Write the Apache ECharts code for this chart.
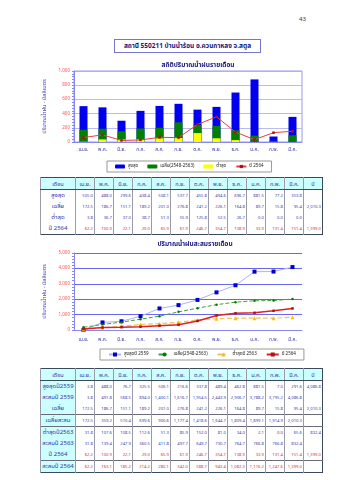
<!DOCTYPE html>
<html><head><meta charset="utf-8">
<script src="https://cdn.jsdelivr.net/npm/echarts@6/dist/echarts.min.js"></script>
<style>
html,body{margin:0;padding:0;background:#fff;}
#page{position:relative;width:339px;height:480px;overflow:hidden;font-family:'Noto Sans Thai','Tahoma','DejaVu Sans',sans-serif;}
#c1{position:absolute;left:0;top:55px;width:339px;height:120px;}
#c2{position:absolute;left:0;top:234px;width:339px;height:132px;}
.pg{position:absolute;left:299px;top:15px;font-size:6px;color:#333;}
.tbox{position:absolute;left:114px;top:39px;width:147px;height:14px;border:1px solid #7777cc;box-sizing:border-box;text-align:center;font-size:6.5px;line-height:12px;color:#1a1a80;font-weight:bold;white-space:nowrap;}
table{position:absolute;left:40px;width:282px;border-collapse:collapse;table-layout:fixed;border:1.5px solid #3a4a5a;}
td{padding:0 1px 0 0;height:11px;text-align:right;font-size:4.2px;color:#4040b0;border-left:1px solid #9a9aa8;white-space:nowrap;overflow:hidden;line-height:10px;}
td.lab{text-align:center;font-size:6px;color:#3333aa;padding:0;}
tr.hd td{background:#ccffff;text-align:center;font-size:5.5px;color:#3333aa;border-bottom:1.5px solid #3a4a5a;padding:0;}
tr.red td{color:#e03030;}
tr.red td.lab{color:#3333aa;}
tr.sep td{border-top:1px solid #6a6a7a;}
#t2 td.lab{background:#ccffff;}
</style></head>
<body><div id="page">
<div class="pg">43</div>
<div class="tbox">สถานี 550211 บ้านน้ำร้อน อ.ควนกาหลง จ.สตูล</div>
<div id="c1"></div>
<table id="t1" style="top:177px"></table>
<div id="c2"></div>
<table id="t2" style="top:368px"></table>
</div>
<script>
const months = ['เม.ย.','พ.ค.','มิ.ย.','ก.ค.','ส.ค.','ก.ย.','ต.ค.','พ.ย.','ธ.ค.','ม.ค.','ก.พ.','มี.ค.'];
// monthly statistics (2548-2563)
const maxMonthly = [505.0, 488.0, 299.6, 438.4, 508.1, 537.7, 455.8, 494.6, 696.7, 881.5, 77.2, 353.8];
const avgMonthly = [172.5, 186.7, 151.1, 189.2, 201.0, 276.8, 241.2, 226.1, 164.8, 89.7, 15.8, 95.4];
const minMonthly = [3.8, 36.7, 37.0, 38.7, 51.3, 55.9, 125.8, 52.5, 26.7, 0.0, 0.0, 0.0];
const avgTotal = 2010.3;
// year 2564
const rain2564 = [62.2, 100.9, 22.1, 29.0, 65.9, 61.9, 246.7, 354.7, 138.9, 33.9, 131.4, 151.4];
const cum2564 = [62.2, 163.1, 185.2, 214.2, 280.1, 342.0, 588.7, 943.4, 1082.3, 1116.2, 1247.6, 1399.0];
const total2564 = 1399.0;
// max year 2559
const max2559 = [3.8, 488.0, 76.7, 325.5, 506.1, 216.6, 337.8, 489.4, 462.8, 881.5, 7.0, 291.6];
const cum2559 = [3.8, 491.8, 568.5, 894.0, 1400.1, 1616.7, 1954.5, 2443.9, 2906.7, 3788.2, 3795.2, 4086.8];
const total2559 = 4086.8;
// average cumulative
const avgCum = [172.5, 359.2, 510.4, 699.6, 900.6, 1177.4, 1418.6, 1644.7, 1809.4, 1899.1, 1914.9, 2010.3];
// min year 2563
const min2563 = [31.8, 107.6, 108.5, 112.6, 51.3, 85.9, 152.0, 81.0, 34.0, 2.1, 0.0, 65.6];
const cum2563 = [31.8, 139.4, 247.9, 360.5, 411.8, 497.7, 649.7, 730.7, 764.7, 766.8, 766.8, 832.4];
const total2563 = 832.4;

const FONT = "'Noto Sans Thai','Tahoma','DejaVu Sans',sans-serif";
const fmt = v => v == null ? '' : v.toLocaleString('en-US',{minimumFractionDigits:1,maximumFractionDigits:1});

function buildTable(id, rows){
  const t = document.getElementById(id);
  let h = '<colgroup><col style="width:35px">' + months.map(()=>'<col style="width:19px">').join('') + '<col style="width:19px"></colgroup>';
  h += '<tr class="hd"><td>เดือน</td>' + months.map(m=>'<td>'+m+'</td>').join('') + '<td>ปี</td></tr>';
  rows.forEach(r=>{
    const cls = [r.red?'red':'', r.sep?'sep':''].join(' ');
    h += '<tr class="'+cls+'"><td class="lab">'+r.label+'</td>' + r.vals.map(v=>'<td>'+fmt(v)+'</td>').join('') + '<td>'+fmt(r.total)+'</td></tr>';
  });
  t.innerHTML = h;
}
buildTable('t1', [
  {label:'สูงสุด', vals:maxMonthly, total:null},
  {label:'เฉลี่ย', vals:avgMonthly, total:avgTotal},
  {label:'ต่ำสุด', vals:minMonthly, total:null},
  {label:'ปี 2564', vals:rain2564, total:total2564, red:true}
]);
buildTable('t2', [
  {label:'สูงสุดปี2559', vals:max2559, total:total2559},
  {label:'สะสมปี 2559', vals:cum2559, total:null},
  {label:'เฉลี่ย', vals:avgMonthly, total:avgTotal},
  {label:'เฉลี่ยสะสม', vals:avgCum, total:null, sep:true},
  {label:'ต่ำสุดปี2563', vals:min2563, total:total2563, sep:true},
  {label:'สะสมปี 2563', vals:cum2563, total:null},
  {label:'ปี 2564', vals:rain2564, total:total2564, red:true},
  {label:'สะสมปี 2564', vals:cum2564, total:null, red:true, sep:true}
]);

const axisCommon = {
  axisLine:{show:true,lineStyle:{color:'#8888ee',width:1}},
  axisTick:{show:true,length:2,lineStyle:{color:'#8888ee'}},
  minorTick:{show:true,splitNumber:5,length:2,lineStyle:{color:'#8888ee'}},
  axisLabel:{color:'#ff5050',fontSize:4.5,margin:4,fontFamily:FONT},
  nameLocation:'middle', nameGap:22,
  nameTextStyle:{color:'#4040aa',fontSize:5.5,fontFamily:FONT}
};
const xCommon = {
  type:'category', data:months,
  axisLine:{show:true,lineStyle:{color:'#8888ee'}},
  axisTick:{show:false},
  axisLabel:{color:'#3333aa',fontSize:4.8,margin:6,fontFamily:FONT,interval:0}
};

const c1 = echarts.init(document.getElementById('c1'), null, {renderer:'canvas'});
c1.setOption({
  animation:false,
  textStyle:{fontFamily:FONT},
  title:{text:'สถิติปริมาณน้ำฝนรายเดือน',left:193,textAlign:'center',top:2,textStyle:{fontSize:6.5,fontWeight:'bold',color:'#1a1a80',fontFamily:FONT}},
  grid:{left:74,top:16,width:228,height:71,show:true,borderColor:'#9999ee',borderWidth:1},
  legend:{left:107,top:106,padding:[3,8],borderColor:'#999',borderWidth:1,itemGap:9,itemWidth:10,itemHeight:4,
    textStyle:{fontSize:4.5,color:'#222',fontFamily:FONT,padding:[0,0,0,-2]},
    data:['สูงสุด','เฉลี่ย(2548-2563)','ต่ำสุด','ปี 2564']},
  xAxis:Object.assign({}, xCommon),
  yAxis:Object.assign({type:'value',min:0,max:1000,interval:200,name:'ปริมาณน้ำฝน - มิลลิเมตร',
    splitLine:{show:true,lineStyle:{color:'#aaaaee',width:0.8}}}, axisCommon),
  series:[
    {name:'สูงสุด',type:'bar',data:maxMonthly,barWidth:8,barGap:'-100%',itemStyle:{color:'#0000ee'}},
    {name:'เฉลี่ย(2548-2563)',type:'bar',data:avgMonthly,barWidth:8,barGap:'-100%',itemStyle:{color:'#008000'}},
    {name:'ต่ำสุด',type:'bar',data:minMonthly,barWidth:8,barGap:'-100%',itemStyle:{color:'#ffff00'}},
    {name:'ปี 2564',type:'line',data:rain2564,symbol:'rect',symbolSize:2.5,lineStyle:{color:'#e04040',width:1},itemStyle:{color:'#b01010'},z:5}
  ]
});

const c2 = echarts.init(document.getElementById('c2'), null, {renderer:'canvas'});
c2.setOption({
  animation:false,
  textStyle:{fontFamily:FONT},
  title:{text:'ปริมาณน้ำฝนสะสมรายเดือน',left:190,textAlign:'center',top:2,textStyle:{fontSize:6.5,fontWeight:'bold',color:'#1a1a80',fontFamily:FONT}},
  grid:{left:74,top:19,width:228,height:77},
  legend:{left:100,top:115,padding:[3,8],borderColor:'#999',borderWidth:1,itemGap:9,itemWidth:12,itemHeight:5,
    textStyle:{fontSize:4.5,color:'#222',fontFamily:FONT,padding:[0,0,0,-2]},
    data:['สูงสุดปี 2559','เฉลี่ย(2548-2563)','ต่ำสุดปี 2563','ปี 2564']},
  xAxis:Object.assign({}, xCommon, {axisLabel:Object.assign({}, xCommon.axisLabel, {margin:8})}),
  yAxis:Object.assign({type:'value',min:0,max:5000,interval:1000,name:'ปริมาณน้ำฝน - มิลลิเมตร',
    splitLine:{show:true,lineStyle:{color:'#6666ee',width:1}}}, axisCommon),
  series:[
    {name:'สูงสุดปี 2559',type:'line',data:cum2559,symbol:'rect',symbolSize:4,lineStyle:{color:'#b0b0ff',width:1},itemStyle:{color:'#0000cc'}},
    {name:'เฉลี่ย(2548-2563)',type:'line',data:avgCum,symbol:'circle',symbolSize:2.5,lineStyle:{color:'#40a040',width:1,type:'dashed'},itemStyle:{color:'#008000'}},
    {name:'ต่ำสุดปี 2563',type:'line',data:cum2563,symbol:'triangle',symbolSize:4,lineStyle:{color:'#f0c060',width:1.2,type:'dashed'},itemStyle:{color:'#ffc000'}},
    {name:'ปี 2564',type:'line',data:cum2564,symbol:'rect',symbolSize:2.5,lineStyle:{color:'#dd2222',width:1.5},itemStyle:{color:'#b01010'},z:5}
  ]
});
</script>
</body></html>
